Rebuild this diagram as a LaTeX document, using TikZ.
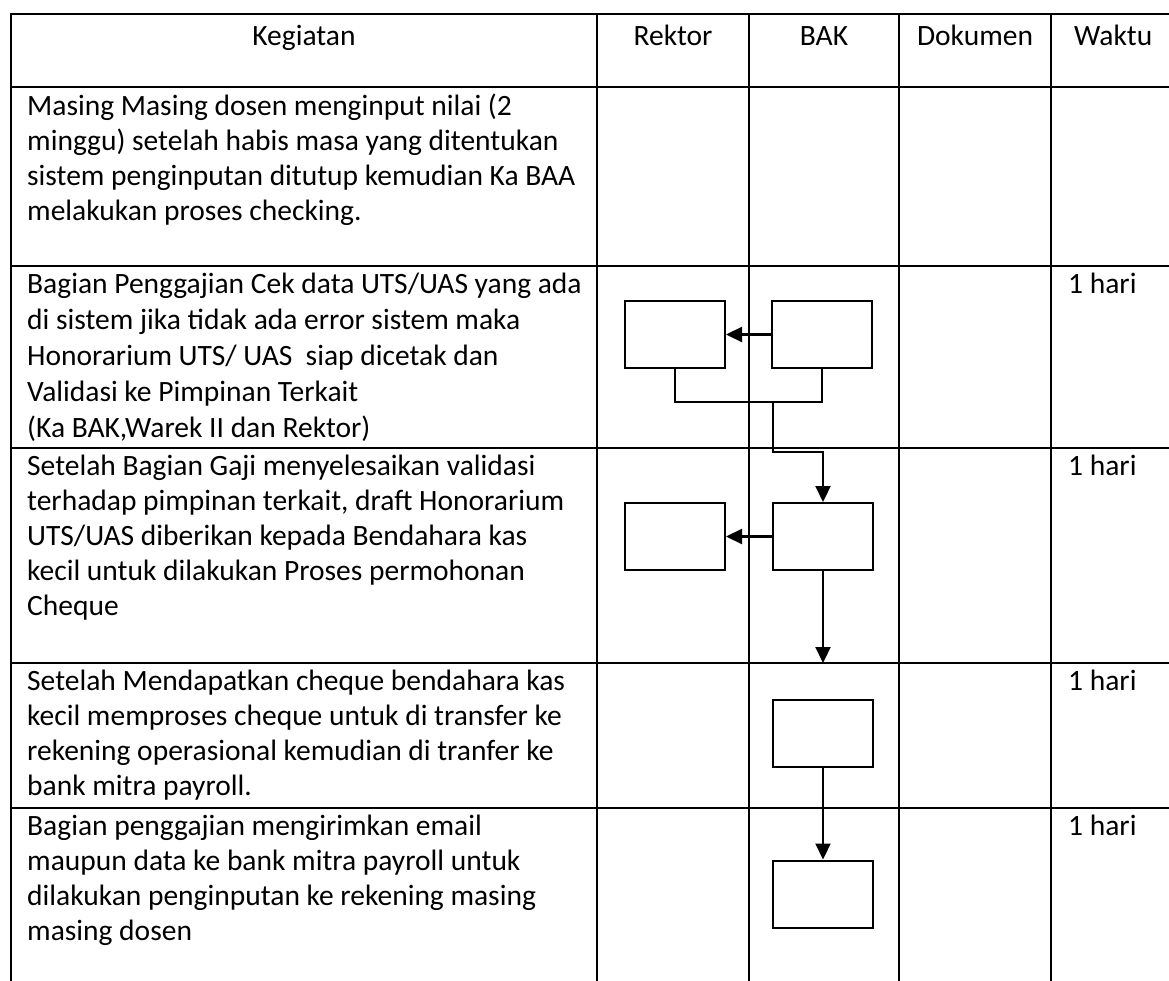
\documentclass[tikz,border=0pt]{standalone}
\usepackage{fontspec}
\setmainfont{Carlito}
\usetikzlibrary{arrows.meta}
\newcommand{\fstrut}{\rule{0pt}{25pt}}
\begin{document}
\begin{tikzpicture}[x=1pt,y=-1pt,
  grid/.style={line width=2.2pt},
  box/.style={draw, line width=2pt, minimum width=100pt, minimum height=67pt, inner sep=0pt},
  conn/.style={line width=2.2pt},
  arr/.style={conn, -{Triangle[length=16pt,width=15pt]}},
  cell/.style={anchor=north west, align=left, inner sep=0pt, font=\fontsize{29.5}{35}\selectfont},
  head/.style={anchor=base, inner sep=0pt, font=\fontsize{29.5}{35}\selectfont}]
\useasboundingbox (0,0) rectangle (1169,981);
% grid
\draw[grid] (11,981) -- (11,14) -- (1169,14);
\foreach \yy in {87,266,448,663,808} \draw[grid] (11,\yy) -- (1169,\yy);
\foreach \xx in {597,749,899,1051} \draw[grid] (\xx,14) -- (\xx,981);
% headers
\node[head] (hk) at (304,46) {Kegiatan};
\node[head] (hr) at (673,46) {Rektor};
\node[head] (hb) at (824,46) {BAK};
\node[head] (hd) at (975,46) {Dokumen};
\node[head, anchor=base west] (hw) at (1074,46) {Waktu};
% texts (top = baseline - 25)
\node[cell] (t1) at (27,90) {\fstrut Masing Masing dosen menginput nilai (2\\minggu) setelah habis masa yang ditentukan\\sistem penginputan ditutup kemudian Ka BAA\\melakukan proses checking.};
\node[cell, font=\fontsize{29.5}{36}\selectfont] (t2) at (27,268) {\fstrut Bagian Penggajian Cek data UTS/UAS yang ada\\di sistem jika tidak ada error sistem maka\\Honorarium UTS/ UAS\ \ siap dicetak dan\\Validasi ke Pimpinan Terkait\\(Ka BAK,Warek II dan Rektor)};
\node[cell] (t3) at (27,450) {\fstrut Setelah Bagian Gaji menyelesaikan validasi\\terhadap pimpinan terkait, draft Honorarium\\UTS/UAS diberikan kepada Bendahara kas\\kecil untuk dilakukan Proses permohonan\\Cheque};
\node[cell] (t4) at (27,665) {\fstrut Setelah Mendapatkan cheque bendahara kas\\kecil memproses cheque untuk di transfer ke\\rekening operasional kemudian di tranfer ke\\bank mitra payroll.};
\node[cell] (t5) at (27,810) {\fstrut Bagian penggajian mengirimkan email\\maupun data ke bank mitra payroll untuk\\dilakukan penginputan ke rekening masing\\masing dosen};
\node[cell] (w2) at (1068,268) {\fstrut 1 hari};
\node[cell] (w3) at (1068,450) {\fstrut 1 hari};
\node[cell] (w4) at (1068,665) {\fstrut 1 hari};
\node[cell] (w5) at (1068,810) {\fstrut 1 hari};
% boxes
\node[box] (a2) at (675,334.5) {};
\node[box] (b2) at (822,334.5) {};
\node[box] (a3) at (675,536.5) {};
\node[box] (b3) at (823,536.5) {};
\node[box] (c4) at (823,733) {};
\node[box] (d5) at (823,894) {};
% connectors
\coordinate (m) at (773,402);
\coordinate (e3) at (823,663);
\draw[arr] (b2.west) -- (a2.east);
\draw[conn] (a2.south) |- (m) -| (b2.south);
\draw[arr] (m) -- (773,452) -| (b3.north);
\draw[arr] (b3.west) -- (a3.east);
\draw[arr] (b3.south) -- (e3);
\draw[arr] (c4.south) -- (d5.north);
\end{tikzpicture}
\end{document}
